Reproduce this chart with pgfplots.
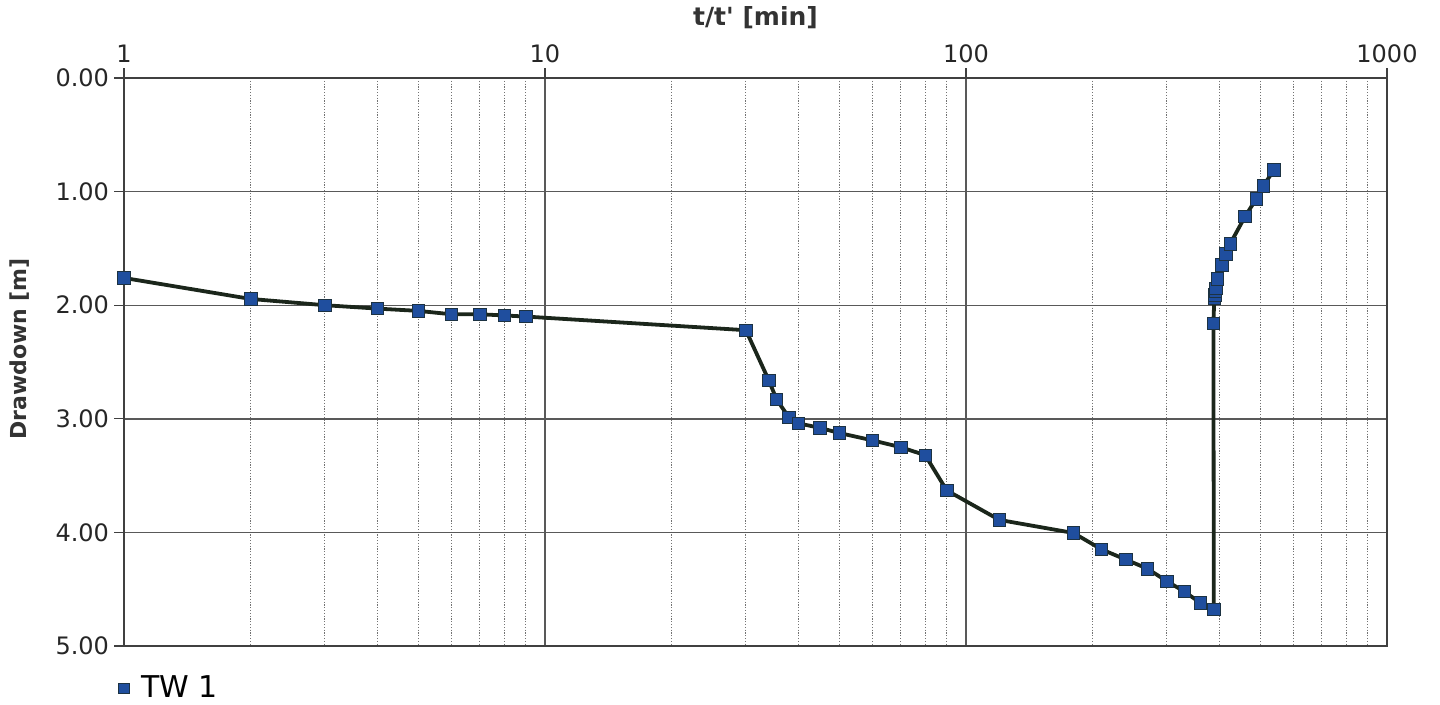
\documentclass[border=0pt]{standalone}
\usepackage{pgfplots}
\pgfplotsset{compat=1.18}
\usepackage{fontspec}
\setmainfont{DejaVu Sans}
\definecolor{mk}{HTML}{1F4E9E}
\definecolor{ln}{HTML}{1B261B}
\begin{document}
\begin{tikzpicture}
\path[use as bounding box] (0pt,0pt) rectangle (720pt,352.5pt);
\begin{axis}[
  at={(62pt,29.5pt)}, anchor=south west,
  scale only axis, width=631.5pt, height=284pt,
  xmode=log, xmin=1, xmax=1000,
  ymin=0, ymax=5, y dir=reverse,
  xtick={1,10,100,1000}, xticklabels={1,10,100,1000},
  ytick={0,1,2,3,4,5},
  yticklabel style={/pgf/number format/fixed,/pgf/number format/zerofill,/pgf/number format/precision=2},
  /pgf/number format/assume math mode=true,
  xticklabel pos=upper,
  tick label style={font=\fontsize{12}{13}\selectfont, text=black!85},
  xticklabel style={yshift=-1pt},
  yticklabel style={xshift=1pt},
  xlabel={t/t\textquotesingle\ [min]}, ylabel={Drawdown [m]},
  xlabel style={font=\fontsize{12.5}{13}\selectfont\bfseries, text=black!80, at={(0.5,1)}, anchor=south, yshift=21pt},
  ylabel style={font=\fontsize{11}{12}\selectfont\bfseries, text=black!80, at={(0,0.523)}, anchor=south, yshift=44pt},
  tick align=outside, major tick length=5pt,
  xtick pos=upper, ytick pos=left,
  minor tick length=0pt,
  grid=both,
  major grid style={draw=black!65, line width=0.7pt},
  minor x grid style={draw=black!55, dash pattern=on 0.6pt off 0.8pt, line width=0.45pt},
  minor y grid style={draw=none},
  axis line style={draw=black!75, line width=0.8pt},
  every tick/.style={draw=black!75, line width=0.6pt},
  legend style={at={(0,-0.045)}, anchor=north west, xshift=-3pt, draw=none, fill=none,
    font=\fontsize{15}{16}\selectfont, inner sep=0pt},
  legend cell align=left,
]
\addplot[color=ln, line width=1.9pt, mark=square*,
  mark options={fill=mk, draw=ln!70!mk, line width=0.4pt, scale=1.0}, mark size=3.1pt,
  legend image code/.code={\draw[fill=mk, draw=ln!70!mk, line width=0.3pt] (0pt,-2.6pt) rectangle (5.2pt,2.6pt);}]
coordinates {
(1,1.76) (2,1.945) (3,2.00) (4,2.03) (5,2.05) (6,2.08) (7,2.08) (8,2.09) (9,2.10)
(30,2.22) (34,2.66) (35.5,2.83) (38,2.99) (40,3.04) (45,3.08) (50,3.125)
(60,3.19) (70,3.25) (80,3.32) (90,3.63) (120,3.89) (180,4.005) (210,4.15)
(240,4.24) (270,4.32) (300,4.43) (330,4.52) (360,4.62) (388,4.68)
(387,2.16) (389,1.94) (390,1.91) (391,1.88) (392,1.85) (396,1.77)
(405,1.645) (414,1.55) (424,1.46) (460,1.22) (489,1.065) (508,0.95) (539,0.81)
};
\addlegendentry{\hspace{4pt}TW 1}
\end{axis}
\end{tikzpicture}
\end{document}
